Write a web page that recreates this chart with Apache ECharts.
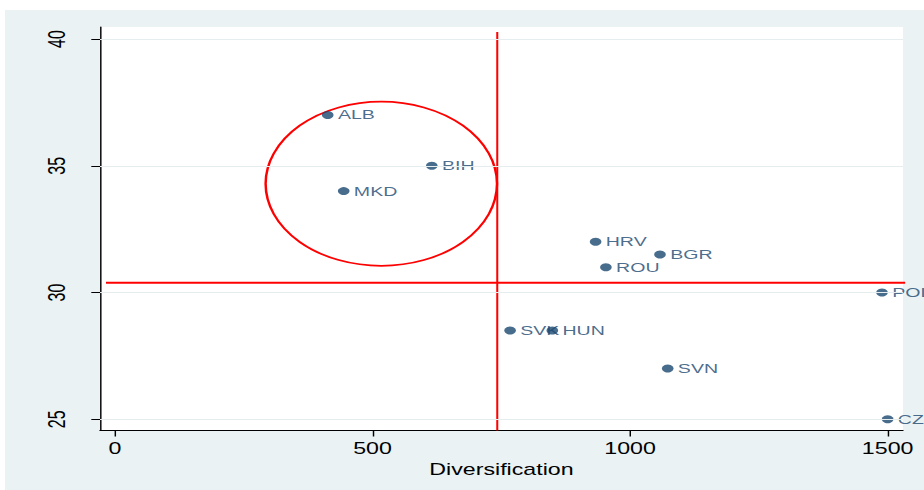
<!DOCTYPE html>
<html><head><meta charset="utf-8">
<script src="https://cdn.jsdelivr.net/npm/echarts@6/dist/echarts.min.js"></script>
<style>
html,body{margin:0;padding:0;background:#fff;overflow:hidden;width:924px;height:490px;}
#bg{position:absolute;left:5px;top:10px;width:919px;height:480px;background:#eaf2f3;}
#chart{position:absolute;left:0;top:0;width:637px;height:490px;transform:scaleX(1.45055);transform-origin:0 0;}
</style></head><body>
<div id="bg"></div><div id="chart"></div>
<script>
// ---- data ----
const countries = ['ALB','BIH','MKD','HRV','BGR','ROU','POL','SVK','HUN','SVN','CZE'];
const diversification = [413, 615, 444, 933, 1058, 953, 1489, 767, 849, 1073, 1500];
const yValues = [37, 35, 34, 32, 31.5, 31, 30, 28.5, 28.5, 27, 25];
const xTicks = [0, 500, 1000, 1500];
const yTicks = [25, 30, 35, 40];
const xAxisName = 'Diversification';
// reference lines and highlighted ellipse (data units)
const hLineY = 30.39;
const hLineXRange = [-17.5, 1539.4];
const vLineX = 742.1;
const vLineYRange = [40.28, 24.56];
const ellipseCenter = [517, 34.29];
const ellipseRadii = [224.6, 3.24];

const FONT = '"Liberation Sans", Arial, Helvetica, sans-serif';
const chart = echarts.init(document.getElementById('chart'), null, {renderer: 'svg'});

const points = countries.map((c, i) => ({name: c, value: [diversification[i], yValues[i]]}));

chart.setOption({
  animation: false,
  backgroundColor: 'transparent',
  grid: {left: 68.94, top: 27, width: 553.56, height: 403.5, show: true,
         backgroundColor: '#ffffff', borderWidth: 0, outerBoundsMode: 'none', containLabel: false},
  xAxis: {
    type: 'value', min: -29.1, max: 1529.7,
    axisLine: {show: true, onZero: false, lineStyle: {color: '#000', width: 1}},
    axisTick: {show: true, length: 6, customValues: xTicks, lineStyle: {color: '#000', width: 1}},
    axisLabel: {customValues: xTicks, fontSize: 16, color: '#000', margin: 10, fontFamily: FONT,
                formatter: v => String(v)},
    splitLine: {show: false},
    name: xAxisName, nameLocation: 'middle', nameGap: 26,
    nameTextStyle: {fontSize: 16, color: '#000', fontFamily: FONT}
  },
  yAxis: {
    type: 'value', min: 24.558, max: 40.473,
    axisLine: {show: true, onZero: false, lineStyle: {color: '#000', width: 1}},
    axisTick: {show: true, length: 6, customValues: yTicks, lineStyle: {color: '#000', width: 1}},
    axisLabel: {customValues: yTicks, rotate: 90, fontSize: 16, color: '#000', margin: 22, fontFamily: FONT,
                formatter: v => String(v)},
    splitLine: {show: false}
  },
  series: [
    { // grid lines
      type: 'line', data: [], silent: true, z: 0,
      markLine: {silent: true, symbol: 'none', animation: false,
        label: {show: false},
        lineStyle: {color: '#e6edef', width: 1, type: 'solid'},
        data: yTicks.map(v => ({yAxis: v}))}
    },
    {
      type: 'line', silent: true, clip: false, symbol: 'none', z: 3,
      lineStyle: {color: '#ff0000', width: 2},
      data: [[hLineXRange[0], hLineY], [hLineXRange[1], hLineY]]
    },
    {
      type: 'line', silent: true, clip: false, symbol: 'none', z: 3,
      lineStyle: {color: '#ff0000', width: 1.4},
      data: [[vLineX, vLineYRange[0]], [vLineX, vLineYRange[1]]]
    },
    {
      type: 'custom', silent: true, clip: false, z: 3,
      encode: {x: 0, y: 1},
      data: [[ellipseCenter[0], ellipseCenter[1], ellipseRadii[0], ellipseRadii[1]]],
      renderItem: function (params, api) {
        const c = api.coord([api.value(0), api.value(1)]);
        const e = api.coord([api.value(0) + api.value(2), api.value(1) - api.value(3)]);
        const rx = Math.abs(e[0] - c[0]), ry = Math.abs(e[1] - c[1]);
        const d = 'M ' + (c[0] - rx) + ' ' + c[1] +
          ' A ' + rx + ' ' + ry + ' 0 1 0 ' + (c[0] + rx) + ' ' + c[1] +
          ' A ' + rx + ' ' + ry + ' 0 1 0 ' + (c[0] - rx) + ' ' + c[1] + ' Z';
        return {type: 'path', shape: {pathData: d},
                style: {fill: 'none', stroke: '#ff0000', lineWidth: 1.7}};
      }
    },
    {
      type: 'scatter', z: 4, clip: false,
      symbol: 'circle', symbolSize: 8,
      itemStyle: {color: '#1a476f'},
      label: {show: true, position: 'right', distance: 3, formatter: '{b}',
              color: '#1a476f', fontSize: 13.5, fontFamily: FONT},
      data: points
    }
  ]
});
</script>
</body></html>
